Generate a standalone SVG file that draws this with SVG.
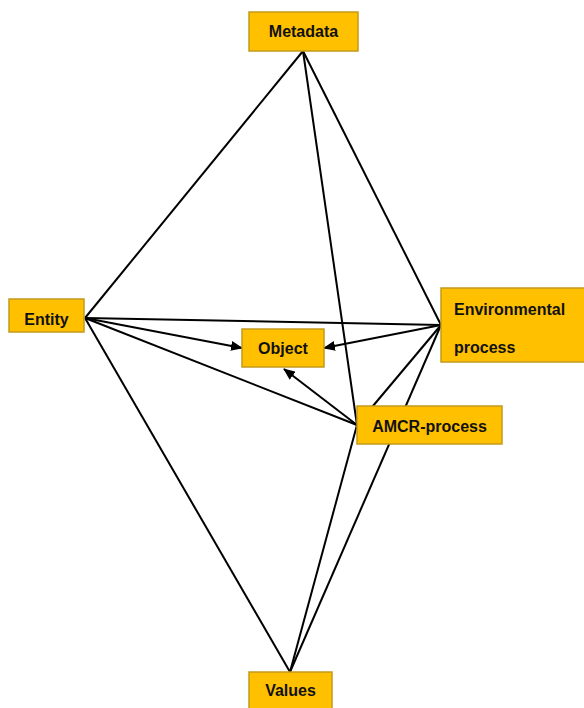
<svg xmlns="http://www.w3.org/2000/svg" width="584" height="708" viewBox="0 0 584 708">
<style>
.box{fill:#FFC000;stroke:#C49A1C;stroke-width:1.5}
.lbl{font-family:"Liberation Sans",Arial,sans-serif;font-weight:bold;font-size:16px;fill:#111}
.c{text-anchor:middle}
.ln{stroke:#000;stroke-width:2;fill:none}
</style>
<defs>
<marker id="ah" markerUnits="userSpaceOnUse" markerWidth="12" markerHeight="10" refX="11" refY="5" orient="auto">
<path d="M0,0 L12,5 L0,10 Z" fill="#000"/>
</marker>
</defs>
<rect width="584" height="708" fill="#fff"/>
<g id="connectors">
<line class="ln" x1="303" y1="51" x2="85" y2="318"/>
<line class="ln" x1="303" y1="51" x2="441" y2="325"/>
<line class="ln" x1="303" y1="51" x2="357" y2="425"/>
<line class="ln" x1="85" y1="318" x2="441" y2="325"/>
<line class="ln" x1="85" y1="318" x2="357" y2="425"/>
<line class="ln" x1="85" y1="318" x2="290" y2="672"/>
<line class="ln" x1="441" y1="325" x2="357" y2="425"/>
<line class="ln" x1="441" y1="325" x2="290" y2="672"/>
<line class="ln" x1="357" y1="425" x2="290" y2="672"/>
<line class="ln" x1="85" y1="318" x2="242" y2="348" marker-end="url(#ah)"/>
<line class="ln" x1="441" y1="325" x2="324" y2="348" marker-end="url(#ah)"/>
<line class="ln" x1="357" y1="425" x2="284" y2="369" marker-end="url(#ah)"/>
</g>
<g id="metadata">
<rect class="box" x="249" y="12" width="109" height="39"/>
<text class="lbl c" x="303.5" y="37">Metadata</text>
</g>
<g id="entity">
<rect class="box" x="9" y="299" width="75" height="33"/>
<text class="lbl c" x="46.5" y="325">Entity</text>
</g>
<g id="object">
<rect class="box" x="242" y="329" width="82" height="38"/>
<text class="lbl c" x="283" y="354">Object</text>
</g>
<g id="environmental-process">
<rect class="box" x="441" y="288" width="150" height="74"/>
<text class="lbl" x="454" y="315">Environmental</text>
<text class="lbl" x="454" y="353">process</text>
</g>
<g id="amcr-process">
<rect class="box" x="357" y="406" width="145" height="38"/>
<text class="lbl c" x="429.5" y="432">AMCR-process</text>
</g>
<g id="values">
<rect class="box" x="249" y="672" width="83" height="40"/>
<text class="lbl c" x="290.5" y="696">Values</text>
</g>
</svg>
